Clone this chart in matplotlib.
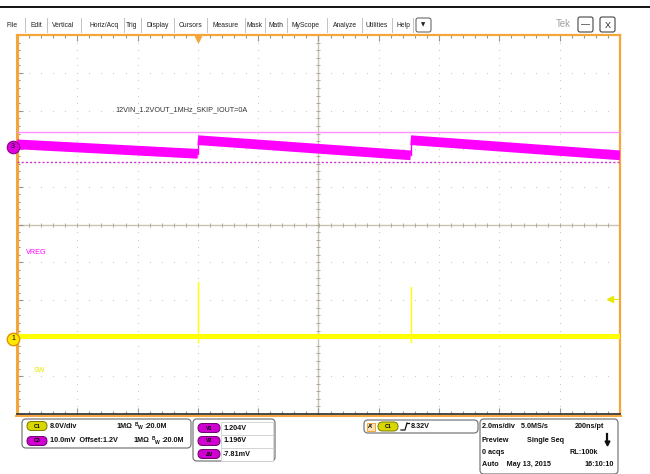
#!/bin/env python3
'''Tek scope capture: VREG ripple and SW node in skip mode'''
import matplotlib
matplotlib.use('Agg')
from matplotlib import pyplot as pl, transforms as tr
from matplotlib.patches import FancyBboxPatch, Rectangle
import numpy as np

# time axis (ms), trigger at 0
t_start, t_stop = -6.0, 14.0
# C3 (VREG): sawtooth ramps between skip pulses, volts
ramp_start_t = [-6.0, 0.0, 7.06]
ramp_end_t = [0.0, 7.06, 14.0]
ramp_start_v = [1.2007, 1.2018, 1.2018]
ramp_end_v = [1.1982, 1.1978, 1.1978]
# C1 (SW): baseline with two switching pulses, volts
sw_base = 0.6
pulse_t = [0.0, 7.06]
pulse_hi = [12.0, 10.9]
pulse_lo = [-0.7, -0.7]
cursor_v1, cursor_v2 = 1.204, 1.196
trig_level = 8.32
c3_scale, c3_offset, c3_pos = 0.010, 1.2, 2.045   # V/div, V, div
c1_scale, c1_pos = 8.0, -3.008

menu = ['File', 'Edit', 'Vertical', 'Horiz/Acq', 'Trig', 'Display', 'Cursors',
        'Measure', 'Mask', 'Math', 'MyScope', 'Analyze', 'Utilities', 'Help']
menu_x = [12, 36, 63, 104, 132, 158, 190, 226, 255, 276, 305, 345, 377, 403]
sep_x = [25, 47, 81, 124, 141, 174, 207, 245, 265, 287, 327, 362, 392, 413]

ORANGE = '#f4a63a'
MAG = '#ff00ff'
YEL = '#ffff00'
GRID = '#c9c2b4'
FONT = 'Liberation Sans'

fig = pl.figure(figsize=(6.5, 4.74), dpi=100)
fig.patch.set_facecolor('white')

# graticule axes in divisions
ax = fig.add_axes([17/650, 1-414/474, 603/650, 379/474], zorder=2)
ax.set_xlim(t_start, t_stop)
ax.set_ylim(-5, 5)
ax.set_xticks(np.arange(t_start, t_stop+0.01, 2.0))
ax.set_xticks(np.arange(t_start, t_stop+0.01, 0.4), minor=True)
ax.set_yticks(np.arange(-5, 5.01, 1))
ax.set_yticks(np.arange(-5, 5.01, 0.2), minor=True)
ax.tick_params(which='both', direction='in', top=True, right=True, labelbottom=False,
               labelleft=False, color='#9a9488', width=0.8)
ax.tick_params(which='major', length=4)
ax.tick_params(which='minor', length=2.5)
for s in ['left', 'right', 'top']:
    ax.spines[s].set_color(ORANGE)
ax.spines['left'].set_linewidth(2.2)
ax.spines['right'].set_linewidth(1.6)
ax.spines['top'].set_linewidth(1.6)
ax.spines['bottom'].set_color('#3a3a3a')
ax.spines['bottom'].set_linewidth(1.3)

xc = (t_start + t_stop) / 2
# dotted grid
minor_x = np.arange(t_start, t_stop+0.01, 0.4)
minor_y = np.arange(-5, 5.01, 0.2)
for gy in range(-4, 5):
    if gy == 0:
        continue
    ax.scatter(minor_x, np.full_like(minor_x, gy), s=0.6, color=GRID, lw=0, zorder=1)
for gx in np.arange(t_start+2, t_stop, 2.0):
    if abs(gx - xc) < 1e-6:
        continue
    ax.scatter(np.full_like(minor_y, gx), minor_y, s=0.6, color=GRID, lw=0, zorder=1)
ax.axhline(0, color=GRID, lw=1.0, zorder=1)
ax.axvline(xc, color=GRID, lw=1.0, zorder=1)
ax.scatter(minor_x, np.zeros_like(minor_x), marker='|', s=12, color='#b0a898', lw=0.7, zorder=1)
ax.scatter(np.full_like(minor_y, xc), minor_y, marker='_', s=12, color='#b0a898', lw=0.7, zorder=1)

# trace axes sharing time
axm = ax.twinx()
axm.set_ylim(c3_offset - (5 + c3_pos)*c3_scale, c3_offset + (5 - c3_pos)*c3_scale)
axy = ax.twinx()
axy.set_ylim(-(5 + c1_pos)*c1_scale, (5 - c1_pos)*c1_scale)
for a in (axm, axy):
    a.axis('off')

# SW trace: thick noisy baseline, thin spikes
axy.plot([t_start, t_stop], [sw_base, sw_base], color=YEL, lw=3.6, solid_capstyle='butt', zorder=3)
for t, hi, lo in zip(pulse_t, pulse_hi, pulse_lo):
    axy.plot([t, t], [lo, hi], color=YEL, lw=1.0, zorder=3)

# VREG trace: thick ramps, thin jumps
for t0, t1, v0, v1 in zip(ramp_start_t, ramp_end_t, ramp_start_v, ramp_end_v):
    axm.plot([t0, t1], [v0, v1], color=MAG, lw=7.0, solid_capstyle='butt', zorder=3)
for i in range(1, len(ramp_start_t)):
    axm.plot([ramp_start_t[i], ramp_start_t[i]], [ramp_end_v[i-1], ramp_start_v[i]],
             color=MAG, lw=1.0, zorder=3)
axm.axhline(cursor_v1, color='#ff90ff', lw=1.0, zorder=4)
axm.axhline(cursor_v2, color='#cc33cc', lw=1.0, ls=(0, (1.5, 1.5)), zorder=4)

ax.text(0.163, 0.803, '12VIN_1.2VOUT_1MHz_SKIP_IOUT=0A', transform=ax.transAxes,
        fontsize=5.2, family=FONT, color='#333333', va='center')
ax.text(0.015, 0.425, 'VREG', transform=ax.transAxes, fontsize=5.2, family=FONT,
        color=MAG, va='center')
ax.text(0.027, 0.114, 'SW', transform=ax.transAxes, fontsize=5.2, family=FONT,
        color='#e8e800', va='center')

# channel markers on left edge
bm = tr.blended_transform_factory(ax.transAxes, axm.transData)
axm.plot([-0.0066], [c3_offset], 'o', ms=9, color='#e000e0', mec='#8a008a', mew=0.8,
         transform=bm, clip_on=False, zorder=6)
axm.text(-0.0066, c3_offset, '3', transform=bm, fontsize=5, ha='center', va='center',
         color='black', family=FONT, zorder=7)
by = tr.blended_transform_factory(ax.transAxes, axy.transData)
axy.plot([-0.0066], [0], 'o', ms=9, color='#ffe800', mec='#e08a00', mew=0.9,
         transform=by, clip_on=False, zorder=6)
axy.text(-0.0066, 0, '1', transform=by, fontsize=5, ha='center', va='center',
         color='black', family=FONT, zorder=7)
# trigger level and position
axy.plot([0.983], [trig_level], marker='<', ms=4, color='#e8e800', transform=by,
         clip_on=False, zorder=6)
axy.plot([0.985, 0.997], [trig_level, trig_level], color='#e8e800', lw=0.8, transform=by,
         clip_on=False, zorder=6)
bt = tr.blended_transform_factory(ax.transData, ax.transAxes)
ax.plot([0.0], [0.99], marker='v', ms=4.5, color=ORANGE, transform=bt, clip_on=False, zorder=6)

# chrome in pixel coordinates
ov = fig.add_axes([0, 0, 1, 1], zorder=10)
ov.set_xlim(0, 650)
ov.set_ylim(474, 0)
ov.axis('off')
ov.patch.set_alpha(0)

ov.plot([0, 650], [7, 7], color='black', lw=1.3)
for name, x in zip(menu, menu_x):
    ov.text(x, 25, name, fontsize=4.9, family=FONT, ha='center', va='center', color='#222222')
for x in sep_x:
    ov.plot([x, x], [18, 32], color='#b8b8b8', lw=0.6)
ov.add_patch(FancyBboxPatch((416, 18), 15, 14, boxstyle='round,pad=0,rounding_size=2',
                            fc='white', ec='#555555', lw=0.7))
ov.text(423.5, 25, '\u25bc', fontsize=4, ha='center', va='center', color='#222222')
ov.text(563, 24, 'Tek', fontsize=7, family=FONT, ha='center', va='center', color='#a0a0a0')
for bx, lbl in [(578, '\u2014'), (600, 'X')]:
    ov.add_patch(FancyBboxPatch((bx, 17), 15, 15, boxstyle='round,pad=0,rounding_size=2',
                                fc='white', ec='#444444', lw=0.8))
    ov.text(bx+7.5, 25, lbl, fontsize=6.5, family=FONT, ha='center', va='center', color='#222222')
ov.plot([16, 621], [415.5, 415.5], color=ORANGE, lw=1.4)


def box(x0, y0, x1, y1):
    ov.add_patch(FancyBboxPatch((x0, y0), x1-x0, y1-y0, boxstyle='round,pad=0,rounding_size=4',
                                fc='white', ec='#7a7a7a', lw=0.9))


def badge(x, y, lbl, fc, ec, w=20):
    ov.add_patch(FancyBboxPatch((x, y-4.5), w, 9, boxstyle='round,pad=0,rounding_size=4.5',
                                fc=fc, ec=ec, lw=0.7))
    ov.text(x+w/2, y, lbl, fontsize=3.8, family=FONT, ha='center', va='center',
            color='black', weight='bold')


def txt(x, y, s, ha='left', size=5.2):
    ov.text(x, y, s, fontsize=size, family=FONT, weight='bold', ha=ha, va='center', color='#111111')


def bw(x, y):
    txt(x, y-2, 'B', size=3.4)
    txt(x+3, y+1.5, 'W', size=3.6)
    txt(x+9.5, y, ':20.0M')


box(22, 419, 191, 448)
badge(27, 426, 'C1', '#d8d800', '#7a7a00')
txt(50, 426, '8.0V/div')
txt(116, 426, '1M\u03a9')
bw(135, 426)
badge(27, 441, 'C3', '#d000d0', '#700070')
txt(50, 441, '10.0mV  Offset:1.2V')
txt(133, 441, '1M\u03a9')
bw(152, 441)

box(193, 419, 275, 461)
for i, (lbl, val) in enumerate([('V1', '1.204V'), ('V2', '1.196V'), ('\u0394V', '-7.81mV')]):
    yy = 428 + i*13
    ov.add_patch(Rectangle((221, yy-6.5), 52, 13, fc='white', ec='#d0d0d0', lw=0.6))
    badge(198, yy, lbl, '#d000d0', '#700070', w=22)
    txt(223, yy, val)

box(364, 420, 478, 433)
ov.add_patch(Rectangle((367, 422.5), 8, 8, fc='#fbe3b8', ec=ORANGE, lw=0.7))
ov.text(371, 426.5, "A'", fontsize=4, family=FONT, weight='bold', ha='center', va='center')
badge(378, 426.5, 'C1', '#d8d800', '#7a7a00')
ov.plot([401, 405, 407], [430, 430, 423], color='#111111', lw=0.9)
ov.plot([407, 409], [423, 423], color='#111111', lw=0.9)
txt(411, 426.5, '8.32V')

box(480, 419, 618, 474)
txt(482, 427, '2.0ms/div   5.0MS/s')
txt(604, 427, '200ns/pt', ha='right')
txt(482, 440, 'Preview')
txt(527, 440, 'Single Seq')
ov.plot([607, 607], [434, 442], color='#111111', lw=1.6)
ov.plot([607], [443], marker='v', ms=3.5, color='#111111')
txt(482, 453, '0 acqs')
txt(598, 453, 'RL:100k', ha='right')
txt(482, 465, 'Auto    May 13, 2015')
txt(614, 465, '16:10:10', ha='right')

fig.savefig('out.png', dpi=100, facecolor='white')
